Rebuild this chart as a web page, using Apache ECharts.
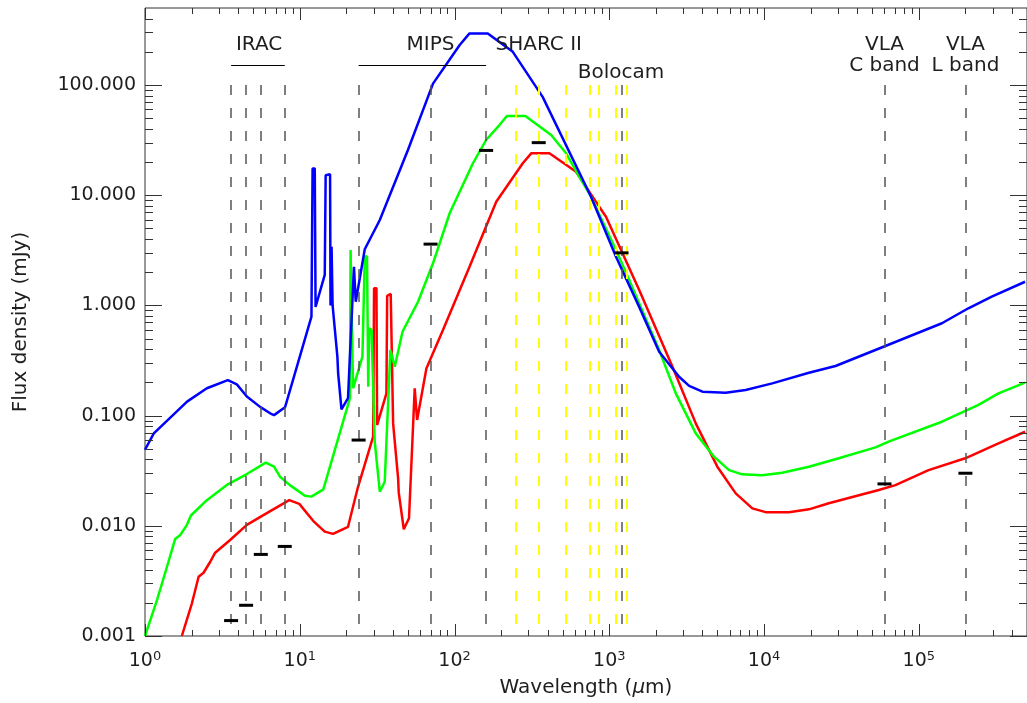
<!DOCTYPE html>
<html><head><meta charset="utf-8">
<script src="https://cdn.jsdelivr.net/npm/echarts@6/dist/echarts.min.js"></script>
<style>html,body{margin:0;padding:0;background:#fff}#c{width:1027px;height:703px}</style>
</head><body><div id="c"></div>
<script>
// ---- model SEDs: [wavelength (um), flux density (mJy)] ----
const blueModel = [
  [1,0.049],[1.14,0.069],[1.87,0.134],[2.51,0.177],[3.43,0.21],[3.92,0.192],[4.55,0.149],
  [5.54,0.12],[6.59,0.103],[6.82,0.101],[8.03,0.119],[11.9,0.79],[12.1,17.5],[12.5,17.5],
  [12.65,0.97],[14.5,1.89],[14.7,15.2],[15.7,15.5],[15.8,1.0],[16.05,3.4],[16.3,1.0],
  [17.5,0.343],[17.7,0.242],[18.6,0.114],[20.5,0.144],[22.4,2.24],[23.0,1.08],[26.3,3.23],
  [32.9,5.96],[50,25.7],[72.6,103],[108,231],[125,294],[164,294],[238,200],[371,78],
  [762,9.7],[1105,2.77],[1560,0.97],[2100,0.38],[2825,0.225],[3280,0.186],[4000,0.165],
  [5650,0.161],[7600,0.171],[11300,0.196],[19500,0.245],[28950,0.282],[60800,0.428],
  [141000,0.689],[209000,0.942],[296000,1.2],[486000,1.64]
];
const greenModel = [
  [1,0.001],[1.195,0.00212],[1.387,0.00425],[1.567,0.0076],[1.69,0.00826],[1.866,0.0102],
  [1.98,0.0124],[2.51,0.0171],[3.43,0.0238],[4.55,0.0295],[6.03,0.0374],[6.82,0.0344],
  [7.45,0.0279],[8.64,0.0234],[10.8,0.0187],[11.9,0.0184],[14.2,0.0214],[21.1,0.144],
  [21.3,3.18],[21.9,3.2],[22.1,0.177],[25.4,0.343],[26.3,2.77],[27.2,2.8],[27.7,0.183],
  [28.1,0.62],[29.1,0.6],[30.5,0.058],[32.9,0.0204],[35.4,0.0251],[38.5,0.394],[41.1,0.278],
  [46.1,0.577],[58.1,1.08],[72.6,2.41],[93,6.86],[131.5,19.5],[160,31.7],[195,43.3],
  [218,52.4],[287,52.4],[421,35.2],[526,24],[641,14.7],[762,9.7],[1105,3.18],[1345,1.7],
  [2100,0.394],[2690,0.159],[3620,0.069],[4750,0.0424],[5940,0.032],[7230,0.0293],
  [9730,0.0287],[13100,0.0303],[19500,0.0344],[30400,0.041],[52500,0.0515],[63800,0.058],
  [141000,0.088],[243000,0.125],[327000,0.159],[486000,0.199]
];
const redModel = [
  [1.73,0.001],[2.01,0.00198],[2.22,0.00345],[2.39,0.00375],[2.64,0.00472],[2.84,0.0057],
  [3.55,0.00743],[4.55,0.0102],[5.82,0.0125],[8.55,0.0171],[9.93,0.0158],[12.2,0.0111],
  [14.5,0.00886],[16.4,0.00844],[20.5,0.0098],[23.8,0.0226],[29.8,0.0644],[30.2,1.43],
  [31.3,1.43],[31.6,0.082],[36.3,0.159],[36.7,1.22],[38.7,1.27],[40.1,0.085],[43.2,0.027],
  [43.6,0.02],[47,0.0093],[50.8,0.0117],[55.3,0.177],[57.3,0.0912],[65.8,0.268],[84.2,0.598],
  [125,2.24],[186,8.73],[276,19.5],[313,24],[410,24],[610,16.3],[861,7.87],[952,6.38],
  [1560,1.38],[2560,0.278],[3620,0.085],[4990,0.0344],[6560,0.0197],[8400,0.0144],
  [10230,0.0133],[14500,0.0133],[19500,0.0141],[26200,0.016],[55100,0.0211],[70600,0.0234],
  [115600,0.032],[199500,0.041],[327000,0.056],[486000,0.0714]
];
// ---- observed photometry ----
const obsWavelength = [3.6, 4.5, 5.6, 8.0, 24, 70, 160, 350, 1200, 60000, 200000];
const obsFlux       = [0.00138, 0.0019, 0.0055, 0.0065, 0.060, 3.6, 25.5, 30, 3.0, 0.024, 0.030];
// ---- instrument bands ----
const blackBands  = [3.6, 4.5, 5.6, 8.0, 24, 70, 160, 1200, 60000, 200000];
const yellowBands = [250, 350, 520, 750, 850, 1100, 1300];
const bandTop = 100, bandBottom = 0.001;
const groupBars = [ {from:3.6, to:8.0, level:150}, {from:24, to:160, level:150} ];
const annotationText = ['IRAC', 'MIPS', 'SHARC II', 'Bolocam', 'VLA', 'C band', 'VLA', 'L band'];
const annotationX    = [5.46, 70, 350, 1190, 60000, 60000, 200000, 200000];
const annotationY    = [233, 233, 233, 128, 233, 150, 233, 150];
// ---- axes ----
const xMin = 1, xMax = 5e5, yMin = 0.001, yMax = 500;
const xDecades = [1, 10, 100, 1000, 10000, 100000];
const yDecades = [0.001, 0.01, 0.1, 1, 10, 100];
const minorMult = [2,3,4,5,6,7,8,9];

const FONT = "'DejaVu Sans', sans-serif";
const INK = '#333';
const TXT = '#1e1e1e';

const xTickData = [];
xDecades.forEach(d => { xTickData.push([d, 1, 1]); minorMult.forEach(m => { if (d*m < xMax*0.999) xTickData.push([d*m, 1, 0]); }); });
const yTickData = [];
yDecades.forEach(d => { yTickData.push([1, d, 1]); minorMult.forEach(m => { if (d*m < yMax*0.999) yTickData.push([1, d*m, 0]); }); });

function crisp(v){ return Math.round(v) + 0.5; }

const chart = echarts.init(document.getElementById('c'), null, {renderer:'canvas'});
const option = {
  animation: false,
  backgroundColor: '#fff',
  grid: { left: 145, right: -2, top: 8, bottom: 67, show: true, borderColor: INK, borderWidth: 1, backgroundColor: 'transparent', containLabel: false },
  xAxis: {
    type: 'log', logBase: 10, min: xMin, max: xMax,
    axisLine: { show: false }, axisTick: { show: false }, splitLine: { show: false }, minorTick: {show:false},
    axisLabel: {
      showMaxLabel: false, margin: 14, color: TXT, fontFamily: FONT, fontSize: 19, lineHeight: 22,
      formatter: v => '10{s|' + Math.round(Math.log10(v)) + '}',
      rich: { s: { fontSize: 13, lineHeight: 13, verticalAlign: 'top', color: TXT, fontFamily: FONT } }
    },
    name: 'Wavelength ({i|μ}m)', nameLocation: 'middle', nameGap: 42,
    nameTextStyle: { color: TXT, fontFamily: FONT, fontSize: 20, rich: { i: { fontStyle: 'italic', fontSize: 20, color: TXT, fontFamily: FONT } } }
  },
  yAxis: {
    type: 'log', logBase: 10, min: yMin, max: yMax,
    axisLine: { show: false }, axisTick: { show: false }, splitLine: { show: false }, minorTick: {show:false},
    axisLabel: { showMaxLabel: false, margin: 9, color: TXT, fontFamily: FONT, fontSize: 19, formatter: v => v.toFixed(3) }
  },
  graphic: [{
    type: 'text', x: 21, y: 322, rotation: Math.PI/2,
    style: { text: 'Flux density (mJy)', fill: TXT, font: '20px ' + FONT, textAlign: 'center', textVerticalAlign: 'middle' }
  }],
  series: [
    { type: 'line', data: [], silent: true, z: 1,
      markLine: { symbol: 'none', silent: true, animation: false, label: { show: false },
        lineStyle: { type: [10, 13], color: '#555', width: 1.5 },
        data: blackBands.map(l => [{coord:[l, bandTop]}, {coord:[l, bandBottom]}]) } },
    { type: 'line', data: [], silent: true, z: 1,
      markLine: { symbol: 'none', silent: true, animation: false, label: { show: false },
        lineStyle: { type: [10, 13], color: '#ffff00', width: 2 },
        data: yellowBands.map(l => [{coord:[l, bandTop]}, {coord:[l, bandBottom]}]) } },
    { type: 'line', data: [], silent: true, z: 1,
      markLine: { symbol: 'none', silent: true, animation: false, label: { show: false },
        lineStyle: { type: 'solid', color: '#000', width: 1 },
        data: groupBars.map(b => [{coord:[b.from, b.level]}, {coord:[b.to, b.level]}]) } },
    { type: 'line', name: 'red', data: redModel, showSymbol: false, z: 3, clip: true,
      lineStyle: { color: '#ff0000', width: 2.5 } },
    { type: 'line', name: 'green', data: greenModel, showSymbol: false, z: 3, clip: true,
      lineStyle: { color: '#00ff00', width: 2.5 } },
    { type: 'line', name: 'blue', data: blueModel, showSymbol: false, z: 3, clip: true,
      lineStyle: { color: '#0000ff', width: 2.5 } },
    { type: 'scatter', data: obsWavelength.map((w,i) => [w, obsFlux[i]]), symbol: 'rect', symbolSize: [14, 3],
      itemStyle: { color: '#000', opacity: 1 }, z: 5, silent: true },
    { type: 'custom', data: annotationText.map((t,i) => [annotationX[i], annotationY[i]]), encode: { x: 0, y: 1 },
      z: 6, silent: true, clip: false,
      renderItem: (params, api) => {
        const p = api.coord([api.value(0), api.value(1)]);
        return { type: 'text', x: p[0], y: p[1],
          style: { text: annotationText[params.dataIndex], fill: TXT, font: '20px ' + FONT, align: 'center', verticalAlign: 'middle' } };
      } },
    { type: 'custom', data: xTickData, encode: { x: 0, y: 1 }, z: 7, silent: true, clip: false,
      renderItem: (params, api) => {
        const cs = params.coordSys; const x = crisp(api.coord([api.value(0), 1])[0]);
        const len = api.value(2) === 1 ? 12 : 6; const b = cs.y + cs.height;
        return { type: 'group', children: [
          { type: 'line', shape: { x1: x, y1: b, x2: x, y2: b - len }, style: { stroke: INK, lineWidth: 1 } },
          { type: 'line', shape: { x1: x, y1: cs.y, x2: x, y2: cs.y + len }, style: { stroke: INK, lineWidth: 1 } }
        ]};
      } },
    { type: 'custom', data: yTickData, encode: { x: 0, y: 1 }, z: 7, silent: true, clip: false,
      renderItem: (params, api) => {
        const cs = params.coordSys; const y = crisp(api.coord([1, api.value(1)])[1]);
        const len = api.value(2) === 1 ? 17 : 8; const r = cs.x + cs.width;
        return { type: 'group', children: [
          { type: 'line', shape: { x1: cs.x, y1: y, x2: cs.x + len, y2: y }, style: { stroke: INK, lineWidth: 1 } },
          { type: 'line', shape: { x1: r, y1: y, x2: r - len, y2: y }, style: { stroke: INK, lineWidth: 1 } }
        ]};
      } }
  ]
};
chart.setOption(option);
</script></body></html>
